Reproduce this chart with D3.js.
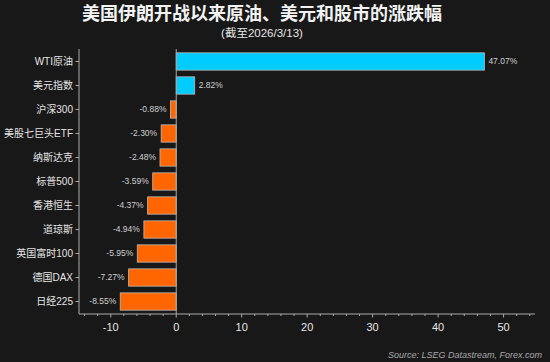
<!DOCTYPE html>
<html lang="zh">
<head>
  <meta charset="UTF-8">
  <title>美国伊朗开战以来原油、美元和股市的涨跌幅</title>
  <script src="https://d3js.org/d3.v7.min.js"></script>
  <style>
    body {
      margin: 0;
      padding: 0;
      background: #181818;
    }
    svg text {
      font-family: "Liberation Sans", "Noto Sans CJK SC", sans-serif;
    }
  </style>
</head>
<body>
  <div id="chart"></div>

  <script>
    const categories = ["WTI原油", "美元指数", "沪深300", "美股七巨头ETF", "纳斯达克",
      "标普500", "香港恒生", "道琼斯", "英国富时100", "德国DAX", "日经225"];
    const changes = [47.07, 2.82, -0.88, -2.30, -2.48, -3.59, -4.37, -4.94, -5.95, -7.27, -8.55];
    const xTicks = [-10, 0, 10, 20, 30, 40, 50];

    const width = 550;
    const height = 362;
    const margin = { top: 49, right: 15, bottom: 48, left: 79 };

    const svg = d3.select("#chart")
      .append("svg")
      .attr("width", width)
      .attr("height", height);

    svg.append("rect")
      .attr("width", width)
      .attr("height", height)
      .attr("fill", "#181818");

    const x = d3.scaleLinear()
      .domain([-14.85, 54.8])
      .range([margin.left, width - margin.right]);

    const y = d3.scaleBand()
      .domain(categories)
      .range([margin.top, height - margin.bottom])
      .paddingInner(0.28)
      .paddingOuter(0.16);

    const rows = categories.map((c, i) => ({ name: c, value: changes[i] }));

    // bars
    svg.append("g")
      .selectAll("rect")
      .data(rows)
      .join("rect")
      .attr("x", d => x(Math.min(0, d.value)))
      .attr("y", d => y(d.name))
      .attr("width", d => Math.abs(x(d.value) - x(0)))
      .attr("height", y.bandwidth())
      .attr("fill", d => d.value >= 0 ? "#00ccff" : "#ff6600")
      .attr("stroke", "#bbbbbb")
      .attr("stroke-width", 0.8);

    // zero line
    svg.append("line")
      .attr("x1", x(0)).attr("x2", x(0))
      .attr("y1", margin.top).attr("y2", height - margin.bottom)
      .attr("stroke", "#aaaaaa")
      .attr("stroke-width", 1);

    // value labels
    svg.append("g")
      .selectAll("text")
      .data(rows)
      .join("text")
      .attr("x", d => d.value >= 0 ? x(d.value) + 4 : x(d.value) - 4)
      .attr("y", d => y(d.name) + y.bandwidth() / 2)
      .attr("dy", "0.35em")
      .attr("text-anchor", d => d.value >= 0 ? "start" : "end")
      .attr("fill", "#d0d0d0")
      .attr("font-size", 8.5)
      .text(d => d.value.toFixed(2) + "%");

    // x axis
    const xAxis = svg.append("g")
      .attr("transform", `translate(0,${height - margin.bottom})`);

    xAxis.append("line")
      .attr("x1", margin.left).attr("x2", width - margin.right)
      .attr("stroke", "#aaaaaa");

    xAxis.selectAll(".minor")
      .data(d3.range(-14, 55, 2).filter(v => v % 10 !== 0))
      .join("line")
      .attr("class", "minor")
      .attr("x1", d => x(d)).attr("x2", d => x(d))
      .attr("y1", 0).attr("y2", 2)
      .attr("stroke", "#aaaaaa");

    xAxis.selectAll(".major")
      .data(xTicks)
      .join("line")
      .attr("class", "major")
      .attr("x1", d => x(d)).attr("x2", d => x(d))
      .attr("y1", 0).attr("y2", 3.5)
      .attr("stroke", "#aaaaaa");

    xAxis.selectAll("text")
      .data(xTicks)
      .join("text")
      .attr("x", d => x(d))
      .attr("y", 17)
      .attr("text-anchor", "middle")
      .attr("fill", "#e6e6e6")
      .attr("font-size", 11)
      .text(d => d);

    // y axis
    const yAxis = svg.append("g");

    yAxis.append("line")
      .attr("x1", margin.left).attr("x2", margin.left)
      .attr("y1", margin.top).attr("y2", height - margin.bottom)
      .attr("stroke", "#aaaaaa");

    yAxis.selectAll(".tick")
      .data(categories)
      .join("line")
      .attr("class", "tick")
      .attr("x1", margin.left - 3.5).attr("x2", margin.left)
      .attr("y1", d => y(d) + y.bandwidth() / 2)
      .attr("y2", d => y(d) + y.bandwidth() / 2)
      .attr("stroke", "#aaaaaa");

    yAxis.selectAll("text")
      .data(categories)
      .join("text")
      .attr("x", margin.left - 6)
      .attr("y", d => y(d) + y.bandwidth() / 2)
      .attr("dy", "0.35em")
      .attr("text-anchor", "end")
      .attr("fill", "#e6e6e6")
      .attr("font-size", 10)
      .text(d => d);

    // titles
    svg.append("text")
      .attr("x", 262)
      .attr("y", 20)
      .attr("text-anchor", "middle")
      .attr("fill", "#f2f2f2")
      .attr("font-size", 18)
      .attr("font-weight", "bold")
      .text("美国伊朗开战以来原油、美元和股市的涨跌幅");

    svg.append("text")
      .attr("x", 262)
      .attr("y", 37)
      .attr("text-anchor", "middle")
      .attr("fill", "#e6e6e6")
      .attr("font-size", 11.5)
      .text("(截至2026/3/13)");

    svg.append("text")
      .attr("x", 542)
      .attr("y", 358)
      .attr("text-anchor", "end")
      .attr("fill", "#aaaaaa")
      .attr("font-size", 9)
      .attr("font-style", "italic")
      .text("Source: LSEG Datastream, Forex.com");
  </script>
</body>
</html>
